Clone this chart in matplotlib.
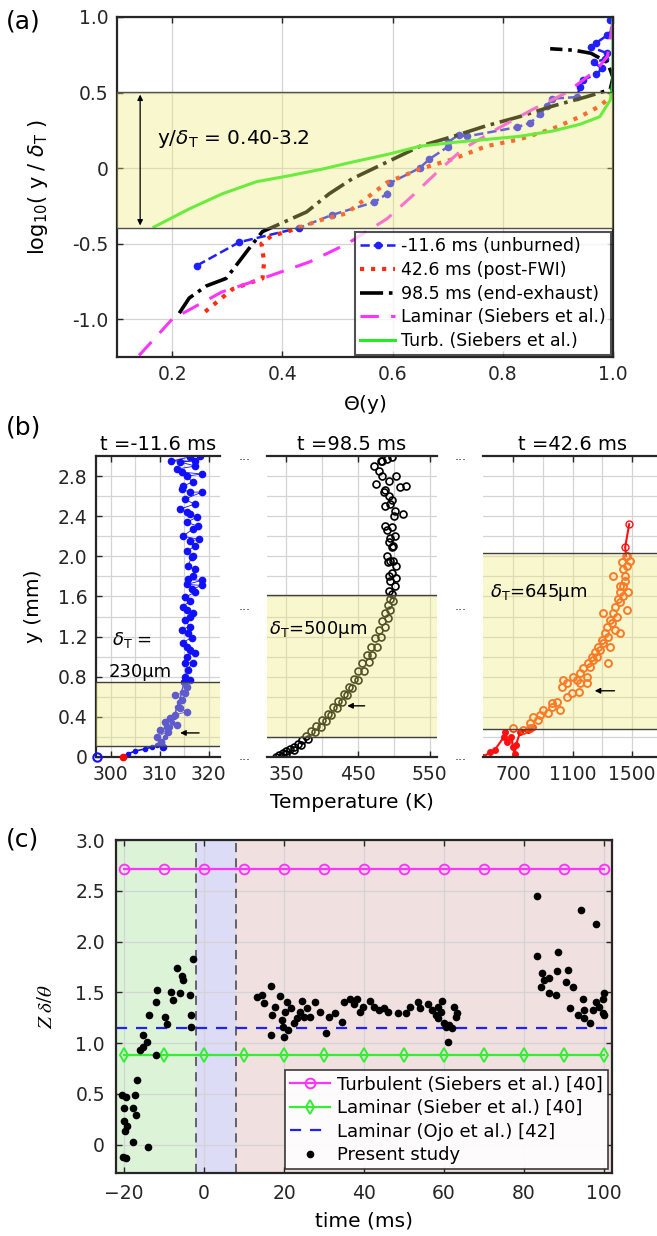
import matplotlib.pyplot as plt

plt.rcParams['font.family'] = ['DejaVu Sans']
plt.rcParams['mathtext.fontset'] = 'dejavusans'

SPINE = '#262626'
GRID = '#d4d4d4'
BAND = '#f0ea70'

# ---------------- panel (a): log10(y/deltaT) vs Theta(y)
unburned_theta = [0.245, 0.322, 0.431, 0.49, 0.567, 0.59, 0.595, 0.649, 0.667, 0.70, 0.70, 0.72, 0.735,
                  0.825, 0.85, 0.867, 0.88, 0.89, 0.935, 0.94, 0.945, 0.97, 0.98, 0.965, 0.985, 0.99,
                  0.96, 0.97, 0.99, 1.0, 0.995]
unburned_logy = [-0.645, -0.49, -0.395, -0.31, -0.225, -0.17, -0.1, 0.0, 0.06, 0.14, 0.17, 0.22, 0.21,
                 0.27, 0.3, 0.355, 0.41, 0.46, 0.47, 0.54, 0.585, 0.62, 0.66, 0.70, 0.72, 0.76,
                 0.8, 0.83, 0.88, 0.92, 0.98]
postfwi_theta = [0.26, 0.31, 0.364, 0.367, 0.362, 0.38, 0.413, 0.473, 0.516, 0.545, 0.59, 0.65, 0.71,
                 0.77, 0.83, 0.89, 0.94, 0.976, 0.995, 1.0]
postfwi_logy = [-0.95, -0.80, -0.73, -0.62, -0.50, -0.45, -0.415, -0.34, -0.30, -0.22, -0.095, -0.005,
                0.06, 0.145, 0.19, 0.26, 0.34, 0.41, 0.47, 0.5]
exhaust_theta = [0.213, 0.231, 0.262, 0.298, 0.316, 0.34, 0.364, 0.389, 0.444, 0.485, 0.527, 0.59, 0.65,
                 0.71, 0.77, 0.83, 0.89, 0.95, 0.995, 1.0, 0.99, 0.96, 0.93, 0.886]
exhaust_logy = [-0.96, -0.86, -0.78, -0.73, -0.645, -0.53, -0.42, -0.38, -0.29, -0.17, -0.07, 0.04,
                0.145, 0.21, 0.28, 0.34, 0.41, 0.47, 0.52, 0.6, 0.7, 0.76, 0.78, 0.79]
lam_theta = [0.14, 0.2, 0.29, 0.364, 0.45, 0.518, 0.59, 0.637, 0.68, 0.727, 0.79, 0.855, 0.916, 0.97,
             0.99, 1.0]
lam_logy = [-1.24, -1.0, -0.82, -0.73, -0.62, -0.50, -0.335, -0.18, -0.03, 0.125, 0.26, 0.39, 0.5, 0.65,
            0.74, 0.98]
turb_theta = [0.167, 0.231, 0.291, 0.353, 0.413, 0.473, 0.527, 0.59, 0.65, 0.71, 0.77, 0.83, 0.89, 0.94,
              0.976, 0.995, 1.0, 1.0]
turb_logy = [-0.39, -0.27, -0.17, -0.09, -0.05, -0.006, 0.04, 0.09, 0.145, 0.17, 0.19, 0.21, 0.245,
             0.29, 0.34, 0.45, 0.57, 1.0]
band_a = [-0.398, 0.505]

# ---------------- panel (b): temperature profiles
cold_line_T = [302.5, 303.5, 305, 307, 308.5, 309.5, 310.5, 311, 311.5, 312.2, 312.5, 313, 313.5, 314,
               314.5, 315]
cold_line_y = [0.0, 0.03, 0.06, 0.08, 0.1, 0.12, 0.15, 0.2, 0.25, 0.3, 0.35, 0.4, 0.5, 0.55, 0.65, 0.75]
cold_T = [310.6, 310.3, 309.4, 310.0, 311.6, 311.4, 311.0, 312.0, 313.5, 313.1, 314.1, 315.5, 314.5,
          313.1, 315.1, 315.5, 314.9, 316.1, 315.1, 315.7, 316.7, 315.1, 317.1, 316.1, 315.5, 314.7,
          316.5, 315.7, 314.5, 315.1, 316.1, 316.1, 314.7, 315.5, 316.7, 315.1, 316.1, 317.1, 318.6,
          315.5, 316.5, 315.7, 315.5, 317.1, 316.7, 318.6, 315.7, 316.5, 316.7, 315.5, 317.1, 316.1,
          318.0, 314.7, 317.8, 316.7, 315.5, 317.6, 315.5, 316.1, 314.1, 317.1, 315.1, 318.6, 316.1,
          314.5, 314.7, 316.7, 318.6, 315.5, 314.5, 313.5, 317.3, 316.1, 318.2, 317.1, 314.1, 312.4]
cold_y = [0.10, 0.15, 0.2, 0.27, 0.25, 0.3, 0.35, 0.39, 0.32, 0.42, 0.49, 0.45, 0.57, 0.62, 0.64, 0.70,
          0.75, 0.77, 0.8, 0.87, 0.94, 0.94, 1.04, 1.07, 1.0, 1.14, 1.19, 1.24, 1.27, 1.37, 1.3, 1.4,
          1.5, 1.47, 1.44, 1.59, 1.55, 1.64, 1.71, 1.72, 1.67, 1.77, 1.1, 1.87, 1.8, 1.76, 1.9, 1.99,
          2.0, 2.05, 2.1, 2.15, 2.17, 2.2, 2.3, 2.27, 2.34, 2.39, 2.44, 2.42, 2.47, 2.52, 2.57, 2.64,
          2.64, 2.67, 2.7, 2.74, 2.82, 2.8, 2.84, 2.87, 2.9, 2.99, 3.0, 2.95, 2.94, 2.95]
exh_T = [335, 342, 340, 350, 345, 360, 350, 370, 355, 380, 360, 390, 366, 398, 372, 405, 378, 412, 385,
         420, 392, 428, 400, 435, 408, 442, 415, 450, 422, 458, 430, 465, 437, 470, 444, 476, 450, 482,
         456, 487, 462, 491, 468, 494, 474, 498, 479, 484, 488, 492, 495, 497,
         492.5, 502, 495, 503, 492.5, 491, 496.6, 499, 495, 503, 490, 496.6, 499, 492.5, 495, 502, 490,
         488, 496.6, 500.7, 513, 502, 488, 495, 496.6, 492.5, 488, 517, 485.6, 509, 474.7, 492.5, 483,
         503, 479, 472, 481.5, 490, 496.6, 483]
exh_y = [0.0, 0.0, 0.02, 0.03, 0.04, 0.07, 0.06, 0.12, 0.08, 0.18, 0.1, 0.25, 0.13, 0.3, 0.17, 0.36,
         0.21, 0.42, 0.26, 0.49, 0.31, 0.55, 0.37, 0.62, 0.43, 0.69, 0.5, 0.77, 0.56, 0.86, 0.63, 0.95,
         0.7, 1.02, 0.78, 1.1, 0.86, 1.2, 0.94, 1.3, 1.02, 1.39, 1.1, 1.47, 1.19, 1.55, 1.27, 1.36,
         1.44, 1.51, 1.57, 1.62,
         1.65, 1.7, 1.75, 1.78, 1.8, 1.94, 1.83, 1.95, 1.95, 1.9, 2.0, 2.09, 2.1, 2.14, 2.18, 2.2, 2.26,
         2.3, 2.29, 2.4, 2.42, 2.45, 2.5, 2.52, 2.56, 2.6, 2.66, 2.7, 2.64, 2.69, 2.72, 2.75, 2.8,
         2.8, 2.85, 2.9, 2.95, 2.97, 2.99, 2.95]
hot_line_T = [500, 550, 579, 640, 650, 660, 690, 700, 713, 720, 750, 800, 834]
hot_line_y = [0.0, 0.05, 0.07, 0.2, 0.25, 0.15, 0.2, 0.1, 0.03, 0.12, 0.25, 0.27, 0.3]
hot_top_T = [1460, 1453, 1480]
hot_top_y = [2.0, 2.09, 2.32]
hot_T = [700, 767, 814, 814, 834, 868, 881, 901, 935, 962, 962, 995, 1015, 1029, 1035, 1062, 1062,
         1096, 1103, 1130, 1143, 1150, 1150, 1170, 1197, 1197, 1203, 1217, 1230, 1237, 1250, 1264,
         1270, 1284, 1297, 1304, 1317, 1331, 1338, 1338, 1351, 1351, 1364, 1371, 1384, 1398, 1384,
         1405, 1418, 1418, 1418, 1438, 1465, 1451, 1472, 1371, 1438, 1451, 1431, 1465, 1465, 1485,
         1304, 1418, 1438]
hot_y = [0.29, 0.27, 0.29, 0.34, 0.40, 0.37, 0.42, 0.47, 0.44, 0.54, 0.50, 0.55, 0.47, 0.70, 0.77,
         0.60, 0.74, 0.64, 0.80, 0.77, 0.65, 0.74, 0.84, 0.89, 0.80, 0.74, 0.94, 0.90, 1.0, 0.97, 1.05,
         1.0, 1.1, 1.07, 1.17, 1.14, 1.24, 1.3, 1.2, 0.94, 1.1, 1.37, 1.34, 1.44, 1.27, 1.4, 1.5, 1.57,
         1.24, 1.54, 1.64, 1.6, 1.47, 1.75, 1.64, 1.8, 1.7, 1.8, 1.94, 1.9, 2.0, 1.95, 1.44, 1.7, 1.87]
bands_b = [[0.11, 0.75], [0.2, 1.61], [0.28, 2.03]]

# ---------------- panel (c): Z vs time
ref_t = [-20, -10, 0, 10, 20, 30, 40, 50, 60, 70, 80, 90, 100]
turb_z = 2.71
lam_z = 0.885
ojo_z = 1.15
study_t = [-20.3, -19.5, -20.6, -19.5, -20.0, -17.8, -20.1, -19.3, -19.8, -17.0, -17.3, -16.8, -17.8,
           -14.1, -16.0, -15.3, -15.3, -14.3, -13.7, -12.1, -12.1, -11.8, -9.8, -9.2, -8.3, -7.7,
           -6.8, -6.0, -5.4, -5.2, -3.5, -3.3, -3.3, -2.7,
           13.2, 14.4, 14.9, 16.7, 16.9, 16.7, 17.8, 19.0, 19.4, 19.7, 19.9, 20.3, 20.7, 21.1, 21.7,
           22.4, 23.2, 24.0, 24.9, 24.5, 25.8, 26.5, 27.8, 29.0, 30.4, 31.2, 32.8, 34.5, 34.9, 36.6,
           37.4, 38.3, 39.1, 39.8, 41.6, 42.4, 43.7, 44.9, 46.1, 48.4, 50.4, 51.6, 53.4, 54.1, 55.9,
           57.1, 57.9, 58.6, 59.6, 59.9, 60.4, 60.9, 61.2, 62.1, 62.4, 62.9, 63.2, 59.2, 58.4,
           83.2, 83.2, 84.5, 84.2, 85.0, 86.2, 86.2, 88.0, 88.5, 88.2, 91.0, 90.5, 92.2, 91.5, 93.5,
           94.7, 95.0, 95.0, 96.5, 97.2, 98.0, 98.7, 99.7, 100.0, 99.7, 100.0, 94.2, 98.0]
study_z = [-0.12, -0.13, 0.49, 0.47, 0.36, 0.36, 0.23, 0.18, 0.13, 0.29, 0.49, 0.64, 0.03,
           -0.02, 0.93, 0.96, 1.08, 1.01, 1.28, 0.88, 1.40, 1.52, 1.26, 1.19, 1.50, 1.42,
           1.74, 1.49, 1.66, 1.62, 1.47, 1.28, 1.16, 1.83,
           1.45, 1.47, 1.39, 1.56, 1.28, 1.08, 1.36, 1.46, 1.23, 1.16, 1.06, 1.31, 1.40, 1.13, 1.35,
           1.20, 1.25, 1.31, 1.26, 1.41, 1.35, 1.26, 1.40, 1.31, 1.10, 1.26, 1.30, 1.21, 1.40, 1.43,
           1.38, 1.43, 1.31, 1.36, 1.41, 1.36, 1.33, 1.35, 1.31, 1.30, 1.30, 1.36, 1.40, 1.35, 1.38,
           1.33, 1.28, 1.25, 1.41, 1.20, 1.16, 1.01, 1.18, 1.15, 1.36, 1.26, 1.30, 1.31, 1.36,
           2.45, 1.86, 1.69, 1.55, 1.62, 1.64, 1.49, 1.47, 1.90, 1.71, 1.72, 1.60, 1.55, 1.35, 1.28,
           1.43, 1.33, 1.25, 1.20, 1.33, 1.40, 1.36, 1.43, 1.49, 1.30, 1.28, 2.31, 2.17]
phase_edges = [-22, -2, 8, 102]
phase_colors = ['#dcf3d8', '#dcdcf6', '#f0e0e0']


def style_axes(ax):
    ax.tick_params(direction='in', top=True, right=True, length=4, width=1, labelsize=13.5,
                   colors=SPINE, pad=6)
    for s in ax.spines.values():
        s.set_color(SPINE)
        s.set_linewidth(1.6)
    ax.grid(True, color=GRID, lw=0.9)
    ax.set_axisbelow(True)


fig = plt.figure(figsize=(6.57, 12.36), dpi=100)
W, H = 657.0, 1236.0


def px_axes(x0, y0, x1, y1):
    return fig.add_axes([x0 / W, 1 - y1 / H, (x1 - x0) / W, (y1 - y0) / H])


# ---- (a)
ax = px_axes(117, 17, 613, 357)
style_axes(ax)
ax.plot(unburned_theta, unburned_logy, '--', color='#1f1fff', lw=1.8, marker='o', ms=4.5,
        label='-11.6 ms (unburned)')
ax.plot(postfwi_theta, postfwi_logy, ':', color='#ff2a10', lw=3, label='42.6 ms (post-FWI)')
ax.plot(exhaust_theta, exhaust_logy, '-.', color='black', lw=2.6, label='98.5 ms (end-exhaust)')
ax.plot(lam_theta, lam_logy, '--', color='#ff33ff', lw=2.2, dashes=(6, 4), label='Laminar (Siebers et al.)')
ax.plot(turb_theta, turb_logy, '-', color='#22ee22', lw=2.2, label='Turb. (Siebers et al.)')
ax.axhspan(band_a[0], band_a[1], color=BAND, alpha=0.35, lw=0, zorder=5)
for v in band_a:
    ax.axhline(v, color='#505050', lw=1, zorder=6)
ax.annotate('', xy=(0.142, band_a[1]), xytext=(0.142, band_a[0]),
            arrowprops=dict(arrowstyle='<|-|>', color='black', lw=0.9, mutation_scale=8), zorder=7)
ax.text(0.172, 0.19, r'y/$\delta_\mathrm{T}$ = 0.40-3.2', fontsize=14.5, va='center', zorder=7)
ax.set_xlim(0.1, 1.0)
ax.set_ylim(-1.25, 1.0)
ax.set_xticks([0.2, 0.4, 0.6, 0.8, 1.0])
ax.set_xticklabels(['0.2', '0.4', '0.6', '0.8', '1.0'])
ax.set_yticks([-1.0, -0.5, 0, 0.5, 1.0])
ax.set_yticklabels(['-1.0', '-0.5', '0', '0.5', '1.0'])
ax.set_xlabel(r'$\Theta$(y)', fontsize=14.5, labelpad=6)
ax.set_ylabel(r'log$_{10}$( y / $\delta_\mathrm{T}$ )', fontsize=15, labelpad=16)
leg = ax.legend(loc='lower right', fontsize=12.5, frameon=True, fancybox=False, edgecolor=SPINE,
                borderaxespad=0.12, handlelength=2.0, labelspacing=0.32, borderpad=0.3,
                handletextpad=0.35)
leg.get_frame().set_linewidth(1.5)
leg.set_zorder(10)
fig.text(6 / W, 1 - 22 / H, '(a)', fontsize=18, va='center')

# ---- (b)
axes_b = [px_axes(96, 456, 220, 757), px_axes(267, 456, 437, 757), px_axes(483, 456, 662, 757)]
titles = ['t =-11.6 ms', 't =98.5 ms', 't =42.6 ms']
xlims = [(297, 322.3), (323, 560), (500, 1700)]
xticks = [[300, 310, 320], [350, 450, 550], [700, 1100, 1500]]
xminor = [[305, 315], [400, 500], [900, 1300]]
for i, axb in enumerate(axes_b):
    style_axes(axb)
    axb.grid(True, which='minor', color=GRID, lw=0.9)
    axb.spines['right'].set_visible(False)
    if i > 0:
        axb.spines['left'].set_visible(False)
        axb.tick_params(left=False, labelleft=False)
    axb.tick_params(right=False, which='both')
    axb.tick_params(which='minor', direction='in', length=0)
    axb.set_xlim(*xlims[i])
    axb.set_ylim(0, 3.0)
    axb.set_xticks(xticks[i])
    axb.set_xticks(xminor[i], minor=True)
    axb.set_yticks([0, 0.4, 0.8, 1.2, 1.6, 2.0, 2.4, 2.8])
    axb.set_yticks([0.2, 0.6, 1.0, 1.4, 1.8, 2.2, 2.6], minor=True)
    axb.set_yticklabels(['0', '0.4', '0.8', '1.2', '1.6', '2.0', '2.4', '2.8'])
    axb.set_title(titles[i], fontsize=14, pad=4)
    lo, hi = bands_b[i]
    axb.axhspan(lo, hi, color=BAND, alpha=0.35, lw=0, zorder=5)
    axb.axhline(lo, color='#404040', lw=1, zorder=6)
    axb.axhline(hi, color='#404040', lw=1, zorder=6)

a0, a1, a2 = axes_b
a0.plot(cold_line_T, cold_line_y, '-', color='#1010ff', lw=1.2, marker='o', ms=3)
order = sorted(range(len(cold_y)), key=lambda k: cold_y[k])
a0.plot([cold_T[k] for k in order], [cold_y[k] for k in order], '-', color='#1010ff', lw=0.6,
        marker='o', ms=4.5)
a0.plot([297.2], [0], 'o', mfc='none', mec='#1010ff', ms=6, mew=1.5, clip_on=False, zorder=7)
a0.plot([302.5], [0], 'o', color='red', ms=4.5, clip_on=False, zorder=7)
a0.set_ylabel('y (mm)', fontsize=14.5, labelpad=11)
a0.text(300.2, 1.17, r'$\delta_\mathrm{T}$ =', fontsize=13, va='center', zorder=7)
a0.text(299.5, 0.85, '230µm', fontsize=13, va='center', zorder=7)
a0.annotate('', xy=(313.6, 0.24), xytext=(318.6, 0.24),
            arrowprops=dict(arrowstyle='-|>', color='black', lw=1, mutation_scale=8), zorder=7)

a1.plot(exh_T, exh_y, 'o', mfc='none', mec='black', ms=5, mew=1.2)
a1.text(326, 1.27, r'$\delta_\mathrm{T}$=500µm', fontsize=13, va='center', zorder=7)
a1.annotate('', xy=(431, 0.51), xytext=(463, 0.51),
            arrowprops=dict(arrowstyle='-|>', color='black', lw=1, mutation_scale=8), zorder=7)
a1.set_xlabel('Temperature (K)', fontsize=14.5, labelpad=6)

a2.plot(hot_line_T, hot_line_y, '-', color='#ff1010', lw=1.5, marker='o', ms=4)
a2.plot(hot_top_T, hot_top_y, '-', color='#ff1010', lw=1.5, marker='o', mfc='none', ms=5)
a2.plot(hot_T, hot_y, 'o', mfc='none', mec='#ff4000', ms=5, mew=1.4)
a2.text(545, 1.64, r'$\delta_\mathrm{T}$=645µm', fontsize=13, va='center', zorder=7)
a2.annotate('', xy=(1230, 0.66), xytext=(1400, 0.66),
            arrowprops=dict(arrowstyle='-|>', color='black', lw=1, mutation_scale=8), zorder=7)

for gx in [245, 461]:
    for gy in [456, 607, 757]:
        fig.text(gx / W, 1 - gy / H, '...', fontsize=9, ha='center', va='center', color=SPINE)
fig.text(6 / W, 1 - 427 / H, '(b)', fontsize=18, va='center')

# ---- (c)
axc = px_axes(116, 840, 612, 1173)
style_axes(axc)
for k in range(3):
    axc.axvspan(phase_edges[k], phase_edges[k + 1], color=phase_colors[k], lw=0, zorder=0)
for v in phase_edges[1:3]:
    axc.axvline(v, color='#404040', lw=1.1, ls=(0, (6, 4)), zorder=2)
axc.plot(ref_t, [turb_z] * len(ref_t), '-', color='#ff33ff', lw=1.6, marker='o', mfc='none', ms=7,
         mew=1.4, label='Turbulent (Siebers et al.) [40]')
axc.plot(ref_t, [lam_z] * len(ref_t), '-', color='#33ee33', lw=1.6, marker='d', mfc='none', ms=7,
         mew=1.4, label='Laminar (Sieber et al.) [40]')
axc.axhline(ojo_z, color='#2020ff', lw=1.6, ls=(0, (5, 4)), label='Laminar (Ojo et al.) [42]')
axc.plot(study_t, study_z, 'o', color='black', ms=4.5, ls='none', label='Present study')
axc.set_xlim(-22, 102)
axc.set_ylim(-0.28, 3.0)
axc.set_xticks([-20, 0, 20, 40, 60, 80, 100])
axc.set_yticks([0, 0.5, 1.0, 1.5, 2.0, 2.5, 3.0])
axc.set_yticklabels(['0', '0.5', '1.0', '1.5', '2.0', '2.5', '3.0'])
axc.tick_params(pad=8)
axc.set_xlabel('time (ms)', fontsize=14.5, labelpad=6)
axc.set_ylabel(r'$Z\ \delta/\theta$', fontsize=15, labelpad=14, math_fontfamily='stix')
legc = axc.legend(loc='lower right', fontsize=13, frameon=True, fancybox=False, edgecolor=SPINE,
                  framealpha=0.9, borderaxespad=0.2, handlelength=2.2, labelspacing=0.3,
                  borderpad=0.3, handletextpad=0.4)
legc.get_frame().set_linewidth(1.2)
fig.text(6 / W, 1 - 840 / H, '(c)', fontsize=18, va='center')

fig.savefig('out.png', dpi=100)
